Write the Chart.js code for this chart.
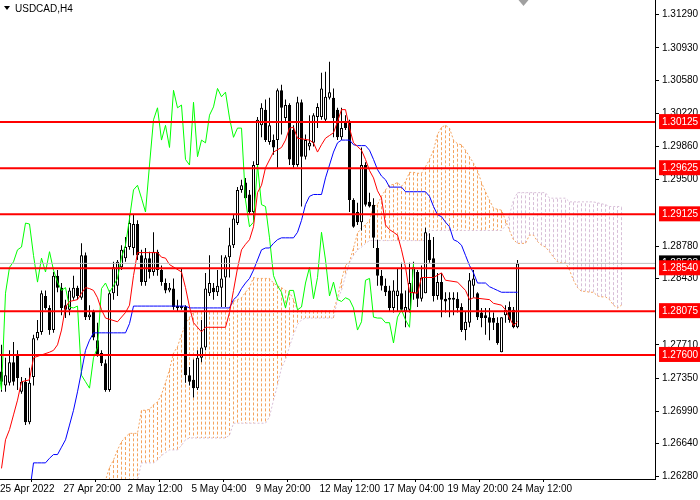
<!DOCTYPE html>
<html>
<head>
<meta charset="utf-8">
<script src="https://cdn.jsdelivr.net/npm/chart.js@4.4.0/dist/chart.umd.min.js"></script>
<style>
  html, body { margin: 0; padding: 0; background: #fff; }
  #wrap { width: 700px; height: 500px; }
</style>
</head>
<body>
<div id="wrap"><canvas id="chart" width="700" height="500"></canvas></div>
<script>
const symbol = 'USDCAD,H4';

// H4 candles, bar 0 = 25 Apr 2022 00:00 ... bar 129 = 24 May 12:00
const opens = [
  1.2742, 1.2727, 1.2730, 1.2752, 1.2760, 1.2720, 1.2731, 1.2687, 1.2736, 1.2778,
  1.2785, 1.2824, 1.2811, 1.2787, 1.2846, 1.2833, 1.2814, 1.2809, 1.2822, 1.2833,
  1.2822, 1.2868, 1.2801, 1.2807, 1.2776, 1.2762, 1.2751, 1.2722, 1.2827, 1.2835,
  1.2855, 1.2865, 1.2877, 1.2876, 1.2902, 1.2868, 1.2839, 1.2865, 1.2850, 1.2872,
  1.2852, 1.2838, 1.2830, 1.2832, 1.2813, 1.2811, 1.2812, 1.2738, 1.2733, 1.2724,
  1.2757, 1.2768, 1.2827, 1.2833, 1.2828, 1.2833, 1.2844, 1.2866, 1.2879, 1.2903,
  1.2939, 1.2947, 1.2934, 1.2915, 1.2966, 1.3009, 1.3026, 1.2991, 1.2993, 1.2993,
  1.3047, 1.3017, 1.3031, 1.3004, 1.2966, 1.3034, 1.2975, 1.2986, 1.2990, 1.3018,
  1.3018, 1.3015, 1.3039, 1.3039, 1.3026, 1.2996, 1.3013, 1.3013, 1.2928, 1.2915,
  1.2904, 1.2966, 1.2926, 1.2923, 1.2876, 1.2846, 1.2835, 1.2830, 1.2811, 1.2824,
  1.2827, 1.2807, 1.2809, 1.2827, 1.2850, 1.2821, 1.2827, 1.2885, 1.2865, 1.2824,
  1.2839, 1.2821, 1.2820, 1.2822, 1.2821, 1.2812, 1.2787, 1.2795, 1.2835, 1.2827,
  1.2806, 1.2803, 1.2801, 1.2800, 1.2795, 1.2763, 1.2803, 1.2812, 1.2809, 1.2790
];
const highs = [
  1.2771, 1.2757, 1.2765, 1.2774, 1.2765, 1.2736, 1.2735, 1.2746, 1.2782, 1.2798,
  1.2830, 1.2830, 1.2814, 1.2850, 1.2852, 1.2838, 1.2820, 1.2833, 1.2846, 1.2835,
  1.2881, 1.2871, 1.2814, 1.2809, 1.2795, 1.2765, 1.2755, 1.2830, 1.2861, 1.2863,
  1.2879, 1.2888, 1.2912, 1.2912, 1.2906, 1.2874, 1.2876, 1.2872, 1.2893, 1.2874,
  1.2857, 1.2843, 1.2838, 1.2843, 1.2820, 1.2854, 1.2814, 1.2747, 1.2755, 1.2765,
  1.2798, 1.2849, 1.2868, 1.2838, 1.2852, 1.2868, 1.2868, 1.2898, 1.2912, 1.2942,
  1.2950, 1.2952, 1.2939, 1.2970, 1.3018, 1.3033, 1.3037, 1.3039, 1.2999, 1.3049,
  1.3053, 1.3037, 1.3033, 1.3009, 1.3040, 1.3037, 1.2999, 1.3020, 1.3022, 1.3033,
  1.3066, 1.3067, 1.3078, 1.3049, 1.3028, 1.3028, 1.3020, 1.3015, 1.2930, 1.2925,
  1.2985, 1.2969, 1.2936, 1.2930, 1.2885, 1.2852, 1.2843, 1.2835, 1.2841, 1.2854,
  1.2860, 1.2830, 1.2860, 1.2861, 1.2852, 1.2857, 1.2898, 1.2892, 1.2888, 1.2849,
  1.2849, 1.2828, 1.2828, 1.2828, 1.2828, 1.2816, 1.2807, 1.2849, 1.2852, 1.2828,
  1.2811, 1.2811, 1.2811, 1.2806, 1.2801, 1.2801, 1.2814, 1.2818, 1.2812, 1.2863
];
const lows = [
  1.2720, 1.2720, 1.2727, 1.2727, 1.2722, 1.2718, 1.2684, 1.2685, 1.2727, 1.2776,
  1.2782, 1.2809, 1.2782, 1.2784, 1.2828, 1.2803, 1.2800, 1.2803, 1.2820, 1.2820,
  1.2820, 1.2798, 1.2798, 1.2776, 1.2758, 1.2748, 1.2720, 1.2720, 1.2820, 1.2824,
  1.2852, 1.2861, 1.2874, 1.2868, 1.2863, 1.2835, 1.2835, 1.2843, 1.2846, 1.2846,
  1.2835, 1.2827, 1.2828, 1.2809, 1.2807, 1.2809, 1.2730, 1.2727, 1.2714, 1.2722,
  1.2752, 1.2765, 1.2824, 1.2820, 1.2824, 1.2812, 1.2812, 1.2844, 1.2876, 1.2901,
  1.2936, 1.2928, 1.2912, 1.2906, 1.2964, 1.2996, 1.2991, 1.2988, 1.2977, 1.2963,
  1.2999, 1.3013, 1.2966, 1.2963, 1.2964, 1.2921, 1.2972, 1.2982, 1.2986, 1.3006,
  1.3015, 1.3013, 1.3037, 1.2996, 1.2993, 1.2993, 1.3004, 1.2915, 1.2898, 1.2901,
  1.2895, 1.2921, 1.2920, 1.2876, 1.2835, 1.2830, 1.2824, 1.2807, 1.2806, 1.2807,
  1.2807, 1.2790, 1.2806, 1.2820, 1.2812, 1.2818, 1.2827, 1.2860, 1.2818, 1.2820,
  1.2801, 1.2806, 1.2801, 1.2803, 1.2806, 1.2785, 1.2776, 1.2790, 1.2822, 1.2798,
  1.2790, 1.2782, 1.2776, 1.2787, 1.2771, 1.2763, 1.2795, 1.2795, 1.2789, 1.2789
];
const closes = [
  1.2731, 1.2738, 1.2752, 1.2731, 1.2735, 1.2731, 1.2687, 1.2730, 1.2778, 1.2785,
  1.2827, 1.2811, 1.2787, 1.2846, 1.2833, 1.2811, 1.2809, 1.2830, 1.2833, 1.2824,
  1.2868, 1.2801, 1.2804, 1.2779, 1.2761, 1.2751, 1.2722, 1.2827, 1.2855, 1.2861,
  1.2874, 1.2877, 1.2903, 1.2902, 1.2868, 1.2839, 1.2865, 1.2850, 1.2872, 1.2852,
  1.2839, 1.2830, 1.2833, 1.2812, 1.2811, 1.2813, 1.2738, 1.2731, 1.2724, 1.2757,
  1.2768, 1.2832, 1.2838, 1.2828, 1.2835, 1.2843, 1.2866, 1.2879, 1.2908, 1.2939,
  1.2944, 1.2930, 1.2915, 1.2966, 1.3015, 1.3028, 1.2993, 1.3009, 1.2985, 1.3047,
  1.3028, 1.3031, 1.2972, 1.2966, 1.3034, 1.2975, 1.2993, 1.2990, 1.3020, 1.3029,
  1.3049, 1.3040, 1.3045, 1.3017, 1.2996, 1.3006, 1.3006, 1.2928, 1.2899, 1.2904,
  1.2966, 1.2923, 1.2921, 1.2887, 1.2846, 1.2835, 1.2828, 1.2811, 1.2830, 1.2830,
  1.2809, 1.2812, 1.2838, 1.2855, 1.2821, 1.2844, 1.2893, 1.2863, 1.2824, 1.2839,
  1.2820, 1.2818, 1.2822, 1.2820, 1.2811, 1.2787, 1.2796, 1.2841, 1.2843, 1.2801,
  1.2800, 1.2800, 1.2795, 1.2795, 1.2773, 1.2801, 1.2809, 1.2798, 1.2790, 1.28593
];

// Ichimoku lines
const tenkanBars = [0,1,2,3,4,5,7,8,12,13,14,15,16,17,19,20,21,22,23,24,25,26,29,31,32,33,34,39,40,41,
  42,45,46,47,48,50,51,56,57,58,59,60,61,62,63,64,65,66,68,70,71,72,73,74,77,78,79,80,81,82,
  83,84,85,86,87,88,89,90,91,92,93,94,95,96,97,98,99,100,101,102,104,105,108,110,111,114,116,117,118,122,
  123,125,126,127,128,129];
const tenkanVals = [1.2637,1.2668,1.2679,1.2695,1.2711,1.2731,1.2733,1.2757,1.2763,1.2765,
  1.2771,1.2787,1.2812,1.2818,1.2820,1.2827,1.2833,1.2832,1.2830,1.2822,
  1.2809,1.2800,1.2796,1.2806,1.2814,1.2846,1.2871,1.2871,1.2866,1.2865,
  1.2858,1.2850,1.2833,1.2812,1.2795,1.2785,1.2790,1.2790,1.2806,1.2830,
  1.2854,1.2874,1.2880,1.2885,1.2899,1.2936,1.2944,1.2963,1.2980,1.2985,
  1.2993,1.3006,1.3007,1.2995,1.2993,1.2990,1.2980,1.2988,1.2995,1.2998,
  1.3001,1.3013,1.3026,1.3026,1.3006,1.2990,1.2986,1.2982,1.2972,1.2960,
  1.2952,1.2938,1.2930,1.2901,1.2896,1.2893,1.2890,1.2874,1.2855,1.2828,
  1.2827,1.2844,1.2844,1.2849,1.2841,1.2839,1.2830,1.2820,1.2822,1.2820,
  1.2816,1.2814,1.2809,1.2800,1.2792,1.2796];

const kijunStart = 7;
const kijun = [
  1.2610, 1.2643, 1.2643, 1.2643, 1.2643, 1.2648, 1.2652, 1.2652, 1.2660, 1.2668,
  1.2684, 1.2700, 1.2720, 1.2742, 1.2765, 1.2776, 1.2784, 1.2784, 1.2784, 1.2784,
  1.2784, 1.2784, 1.2784, 1.2784, 1.2784, 1.2794, 1.2813, 1.2813, 1.2813, 1.2813,
  1.2813, 1.2813, 1.2813, 1.2813, 1.2813, 1.2813, 1.2813, 1.2813, 1.2813, 1.2813,
  1.2811, 1.2811, 1.2811, 1.2811, 1.2811, 1.2811, 1.2811, 1.2811, 1.2811, 1.2811,
  1.2811, 1.2820, 1.2824, 1.2832, 1.2838, 1.2843, 1.2852, 1.2863, 1.2874, 1.2876,
  1.2876, 1.2881, 1.2885, 1.2887, 1.2887, 1.2887, 1.2887, 1.2893, 1.2906, 1.2923,
  1.2932, 1.2934, 1.2934, 1.2934, 1.2952, 1.2966, 1.2980, 1.2990, 1.2993, 1.2993,
  1.2993, 1.2988, 1.2987, 1.2987, 1.2987, 1.2982, 1.2972, 1.2961, 1.2954, 1.2950,
  1.2942, 1.2942, 1.2942, 1.2942, 1.2937, 1.2937, 1.2937, 1.2937, 1.2937, 1.2937,
  1.2932, 1.2921, 1.2912, 1.2910, 1.2904, 1.2899, 1.2885, 1.2883, 1.2879, 1.2868,
  1.2857, 1.2849, 1.2838, 1.2838, 1.2838, 1.2834, 1.2832, 1.2830, 1.2828, 1.2828,
  1.2828, 1.2828, 1.2828
];

const chikouShift = 26;

// Senkou span A / B, bar 25 ... bar 155 (26 bars past the last candle)
const cloudStart = 25;
const spanA = [
  1.2610, 1.2624, 1.2638, 1.2646, 1.2657, 1.2666, 1.2671, 1.2675, 1.2675, 1.2675,
  1.2700, 1.2700, 1.2701, 1.2706, 1.2709, 1.2717, 1.2730, 1.2744, 1.2762, 1.2769,
  1.2782, 1.2793, 1.2801, 1.2806, 1.2807, 1.2807, 1.2807, 1.2807, 1.2807, 1.2807,
  1.2807, 1.2807, 1.2811, 1.2818, 1.2820, 1.2822, 1.2828, 1.2833, 1.2844, 1.2843,
  1.2843, 1.2843, 1.2843, 1.2838, 1.2835, 1.2833, 1.2830, 1.2828, 1.2820, 1.2809,
  1.2808, 1.2808, 1.2808, 1.2808, 1.2808, 1.2808, 1.2808, 1.2808, 1.2808, 1.2822,
  1.2841, 1.2857, 1.2861, 1.2876, 1.2892, 1.2898, 1.2901, 1.2906, 1.2921, 1.2923,
  1.2932, 1.2939, 1.2944, 1.2945, 1.2947, 1.2943, 1.2948, 1.2958, 1.2958, 1.2957,
  1.2957, 1.2964, 1.2972, 1.2982, 1.2999, 1.3007, 1.3009, 1.3006, 1.2993, 1.2989,
  1.2988, 1.2982, 1.2975, 1.2968, 1.2960, 1.2947, 1.2937, 1.2928, 1.2919, 1.2918,
  1.2917, 1.2906, 1.2895, 1.2885, 1.2881, 1.2881, 1.2881, 1.2890, 1.2890, 1.2883,
  1.2879, 1.2877, 1.2872, 1.2866, 1.2861, 1.2860, 1.2860, 1.2852, 1.2841, 1.2833,
  1.2829, 1.2829, 1.2828, 1.2828, 1.2824, 1.2823, 1.2823, 1.2820, 1.2814, 1.2811,
  1.2814
];
const spanB = [
  1.2600, 1.2600, 1.2600, 1.2600, 1.2600, 1.2600, 1.2600, 1.2600, 1.2600, 1.2624,
  1.2643, 1.2643, 1.2643, 1.2643, 1.2646, 1.2651, 1.2654, 1.2657, 1.2657, 1.2657,
  1.2662, 1.2668, 1.2670, 1.2670, 1.2670, 1.2670, 1.2670, 1.2670, 1.2670, 1.2670,
  1.2670, 1.2670, 1.2673, 1.2686, 1.2686, 1.2686, 1.2686, 1.2686, 1.2686, 1.2686,
  1.2686, 1.2686, 1.2693, 1.2711, 1.2727, 1.2746, 1.2755, 1.2769, 1.2782, 1.2793,
  1.2798, 1.2800, 1.2800, 1.2800, 1.2800, 1.2800, 1.2800, 1.2800, 1.2800, 1.2820,
  1.2830, 1.2846, 1.2860, 1.2868, 1.2874, 1.2877, 1.2881, 1.2884, 1.2884, 1.2884,
  1.2884, 1.2884, 1.2884, 1.2884, 1.2884, 1.2884, 1.2884, 1.2884, 1.2884, 1.2884,
  1.2884, 1.2884, 1.2895, 1.2895, 1.2895, 1.2895, 1.2895, 1.2895, 1.2895, 1.2895,
  1.2895, 1.2895, 1.2895, 1.2895, 1.2895, 1.2895, 1.2895, 1.2895, 1.2895, 1.2895,
  1.2895, 1.2900, 1.2912, 1.2928, 1.2936, 1.2936, 1.2936, 1.2936, 1.2936, 1.2936,
  1.2936, 1.2936, 1.2930, 1.2930, 1.2930, 1.2930, 1.2930, 1.2926, 1.2926, 1.2926,
  1.2926, 1.2926, 1.2926, 1.2926, 1.2925, 1.2924, 1.2923, 1.2921, 1.2921, 1.2921,
  1.2921
];

// horizontal levels and the last price
const levels = [1.30125, 1.29625, 1.29125, 1.28540, 1.28075, 1.27600];
const lastPrice = 1.28593;

// axis labels
const priceTicks = [1.31290, 1.30930, 1.30580, 1.30220, 1.29860, 1.29500, 1.28780,
  1.28430, 1.27710, 1.27350, 1.26990, 1.26640, 1.26280];
const timeLabels = ['25 Apr 2022', '27 Apr 20:00', '2 May 12:00', '5 May 04:00', '9 May 20:00',
  '12 May 12:00', '17 May 04:00', '19 May 20:00', '24 May 12:00'];
const timeLabelBars = [0, 17, 33, 49, 65, 81, 97, 113, 129];

// view window
const xMin = -0.375, xMax = 163.375;
const yMin = 1.26255, yMax = 1.31449;
const labelShift = 1.5;
const MIN_BODY = 0.0002;

const FONT = { family: '"Liberation Sans", Arial, sans-serif', size: 10 };

const wickData = closes.map((c, i) => ({ x: i, y: [lows[i], highs[i]] }));
const bodyData = closes.map((c, i) => {
  let lo = Math.min(opens[i], c), hi = Math.max(opens[i], c);
  if (hi - lo < MIN_BODY) {
    const m = (hi + lo) / 2;
    lo = m - MIN_BODY / 2; hi = m + MIN_BODY / 2;
  }
  return { x: i, y: [lo, hi] };
});
const bodyColors = closes.map((c, i) => c >= opens[i] ? '#ffffff' : '#000000');

const tenkanData = tenkanBars.map((b, k) => ({ x: b, y: tenkanVals[k] }));
const kijunData = kijun.map((v, k) => ({ x: kijunStart + k, y: v }));
const chikouData = closes.map((c, i) => ({ x: i - chikouShift, y: c }));
const spanAData = spanA.map((v, k) => ({ x: cloudStart + k, y: v }));
const spanBData = spanB.map((v, k) => ({ x: cloudStart + k, y: v }));

// cloud hatching: one dotted vertical stroke per bar between the spans
const hatchUp = [], hatchDown = [];
spanA.forEach((a, k) => {
  const x = cloudStart + k, b = spanB[k];
  const target = a >= b ? hatchUp : hatchDown;
  target.push({ x, y: a }, { x, y: b }, { x, y: null });
});

const lineDs = (data, color, order, extra) => Object.assign({
  type: 'line', data, borderColor: color, borderWidth: 1, pointRadius: 0,
  fill: false, order, spanGaps: false
}, extra || {});

const datasets = [
  ...levels.map(v => lineDs([{ x: xMin, y: v }, { x: xMax, y: v }], '#ff0000', 0, { borderWidth: 2 })),
  lineDs([{ x: xMin, y: lastPrice }, { x: xMax, y: lastPrice }], '#c0c0c0', 1),
  lineDs(tenkanData, '#ff0000', 2),
  lineDs(kijunData, '#0000ff', 2),
  lineDs(chikouData, '#00ff00', 3),
  {
    type: 'bar', data: bodyData, backgroundColor: bodyColors, borderColor: '#000000',
    borderWidth: 1, borderSkipped: false, barThickness: 3, grouped: false,
    inflateAmount: 0, order: 4
  },
  {
    type: 'bar', data: wickData, backgroundColor: '#000000', borderWidth: 0,
    barThickness: 1, grouped: false, inflateAmount: 0, order: 5
  },
  lineDs(spanAData, '#f4a460', 6, { borderDash: [2, 2] }),
  lineDs(spanBData, '#d8bfd8', 6, { borderDash: [2, 2] }),
  lineDs(hatchUp, '#f4a460', 7, { borderDash: [3, 2] }),
  lineDs(hatchDown, '#d8bfd8', 7, { borderDash: [3, 2] })
];

const nReg = priceTicks.length;

const decor = {
  id: 'decor',
  afterDraw(chart) {
    const c = chart.ctx;
    c.save();
    c.fillStyle = '#000';
    c.beginPath();
    c.moveTo(4, 6); c.lineTo(10, 6); c.lineTo(7, 10); c.closePath(); c.fill();
    c.font = '10px "Liberation Sans", Arial, sans-serif';
    c.textBaseline = 'middle';
    c.fillText(symbol, 15, 9);
    // chart shift marker
    const xs = chart.scales.x.getPixelForValue(closes.length + 0.5);
    c.fillStyle = '#a0a0a0';
    c.beginPath();
    c.moveTo(xs - 5, 0); c.lineTo(xs + 5, 0); c.lineTo(xs, 6); c.closePath(); c.fill();
    c.restore();
  }
};

new Chart(document.getElementById('chart'), {
  type: 'line',
  data: { datasets },
  options: {
    responsive: false,
    animation: false,
    devicePixelRatio: 1,
    layout: { padding: 0 },
    plugins: { legend: { display: false }, tooltip: { enabled: false }, title: { display: false } },
    scales: {
      x: {
        type: 'linear', min: xMin, max: xMax, offset: false,
        afterBuildTicks: s => {
          s.ticks = timeLabelBars.map((b, k) => ({ value: k === 0 ? xMin : b - labelShift }));
        },
        afterFit: s => { s.height = 21; s.paddingLeft = 0; s.paddingRight = 0; },
        ticks: {
          autoSkip: false, maxRotation: 0, minRotation: 0, align: 'start', padding: 1,
          font: FONT, color: '#000',
          callback: (v, i) => timeLabels[i]
        },
        grid: { drawOnChartArea: false, drawTicks: true, tickLength: 3, color: '#000', tickColor: '#000' },
        border: { display: true, color: '#000', width: 1 }
      },
      y: {
        type: 'linear', position: 'right', min: yMin, max: yMax,
        afterBuildTicks: s => {
          s.ticks = [...priceTicks, lastPrice, ...levels].map(v => ({ value: v }));
        },
        afterFit: s => { s.width = 45; s.paddingTop = 0; s.paddingBottom = 0; },
        ticks: {
          autoSkip: false, padding: 3, font: FONT,
          color: ctx => ctx.index < nReg ? '#000' : '#fff',
          showLabelBackdrop: true,
          backdropColor: ctx => ctx.index < nReg ? 'rgba(0,0,0,0)' : (ctx.index === nReg ? '#000' : '#ff0000'),
          backdropPadding: { left: 3, right: 5, top: 2, bottom: 1 },
          callback: v => Number(v).toFixed(5)
        },
        grid: {
          drawOnChartArea: false, drawTicks: true, tickLength: 4, color: '#000',
          tickColor: ctx => ctx.index < nReg ? '#000' : 'rgba(0,0,0,0)'
        },
        border: { display: true, color: '#000', width: 1 }
      }
    }
  },
  plugins: [decor]
});
</script>
</body>
</html>
